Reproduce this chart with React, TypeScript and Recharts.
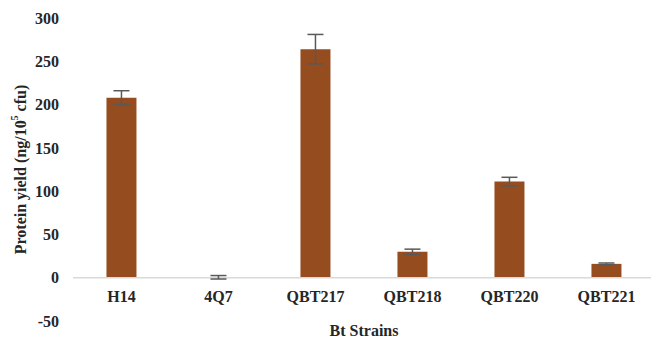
import { BarChart, Bar, XAxis, YAxis, ErrorBar, ReferenceLine } from 'recharts';

const strains = ['H14', '4Q7', 'QBT217', 'QBT218', 'QBT220', 'QBT221'];
const yields = [208, 0.5, 264, 30, 111, 16];
const errors = [8, 2, 17, 3, 5, 1];
const yTicks = [-50, 0, 50, 100, 150, 200, 250, 300];

const data = strains.map((name, i) => ({ name, value: yields[i], err: errors[i] }));

const FONT = '"Liberation Serif", "Times New Roman", serif';

const XTick = (props: any) => {
  const { x, y, payload } = props;
  return (
    <text x={x} y={y - 27} textAnchor="middle" fontFamily={FONT} fontWeight="bold" fontSize={16} fill="#262626">
      {payload.value}
    </text>
  );
};

const YLabel = (props: any) => {
  const { viewBox } = props;
  const cx = 20;
  const cy = viewBox.y + viewBox.height / 2;
  return (
    <text
      x={cx}
      y={cy}
      transform={`rotate(-90, ${cx}, ${cy})`}
      textAnchor="middle"
      dominantBaseline="central"
      fontFamily={FONT}
      fontWeight="bold"
      fontSize={16}
      fill="#262626"
    >
      Protein yield (ng/10
      <tspan fontSize={10} dy={-6}>5</tspan>
      <tspan dy={6}> cfu)</tspan>
    </text>
  );
};

const XLabel = (props: any) => {
  const { viewBox } = props;
  return (
    <text
      x={viewBox.x + viewBox.width / 2}
      y={336}
      textAnchor="middle"
      fontFamily={FONT}
      fontWeight="bold"
      fontSize={16}
      fill="#262626"
    >
      Bt Strains
    </text>
  );
};

export default function App() {
  return (
    <div style={{ margin: -8, width: 659, height: 344, background: '#fff' }}>
      <BarChart
        width={659}
        height={344}
        data={data}
        margin={{ top: 18, right: 4, bottom: 0, left: 0 }}
        barCategoryGap="34.5%"
      >
        <XAxis
          dataKey="name"
          axisLine={false}
          tickLine={false}
          height={23}
          tick={XTick}
          interval={0}
          label={{ content: XLabel }}
        />
        <YAxis
          width={73}
          domain={[-50, 300]}
          ticks={yTicks}
          axisLine={false}
          tickLine={false}
          tickMargin={8}
          tick={{ fontFamily: FONT, fontWeight: 'bold', fontSize: 16, fill: '#262626' }}
          label={{ content: YLabel }}
        />
        <ReferenceLine y={0} stroke="#d9d9d9" strokeWidth={1.5} />
        <Bar dataKey="value" fill="#954c1f" isAnimationActive={false}>
          <ErrorBar dataKey="err" width={8} stroke="#595959" strokeWidth={1.5} />
        </Bar>
      </BarChart>
    </div>
  );
}
